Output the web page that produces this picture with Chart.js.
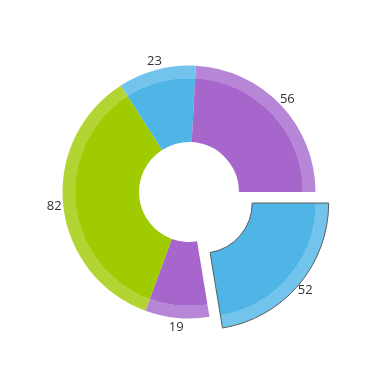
<!DOCTYPE html>
<html><head><meta charset="utf-8">
<script src="https://cdn.jsdelivr.net/npm/chart.js@4/dist/chart.umd.min.js"></script>
<style>html,body{margin:0;padding:0;background:#fff}#wrap{width:385px;height:373px;position:relative}</style>
</head><body><div id="wrap"><canvas id="c"></canvas></div>
<script>
// Data (clockwise from 3 o'clock)
const categories = ['Item 1', 'Item 2', 'Item 3', 'Item 4', 'Item 5'];
const values = [52, 19, 82, 23, 56];
const darkColors = ['#4FB5E6', '#A666CC', '#A0CB00', '#4FB5E6', '#A666CC'];
const lightColors = ['#72C4EC', '#B886D7', '#B3D533', '#72C4EC', '#B886D7'];
const explodedIndex = 0;

const OUTER_R = 126.5;
const BAND = 13;

function sliceFill(c) {
  const chart = c.chart;
  const a = chart.chartArea;
  const i = c.dataIndex;
  if (!a) return darkColors[i];
  const cx = (a.left + a.right) / 2, cy = (a.top + a.bottom) / 2;
  const ext = OUTER_R + 20;
  const g = chart.ctx.createRadialGradient(cx, cy, 0, cx, cy, ext);
  const s = (OUTER_R - BAND) / ext;
  g.addColorStop(0, darkColors[i]);
  g.addColorStop(s, darkColors[i]);
  g.addColorStop(s, lightColors[i]);
  g.addColorStop(1, lightColors[i]);
  return g;
}

const labelPlugin = {
  id: 'outLabels',
  afterDatasetsDraw(chart) {
    const ctx = chart.ctx;
    const meta = chart.getDatasetMeta(0);
    ctx.save();
    ctx.font = '13px "Open Sans", "DejaVu Sans", sans-serif';
    ctx.fillStyle = '#333';
    ctx.textAlign = 'center';
    ctx.textBaseline = 'middle';
    meta.data.forEach((arc, i) => {
      const p = arc.getProps(['x', 'y', 'startAngle', 'endAngle', 'outerRadius'], true);
      const mid = (p.startAngle + p.endAngle) / 2;
      const off = (arc.options.offset || 0) / 4;
      const r = p.outerRadius + off + 9;
      ctx.fillText(String(values[i]), p.x + Math.cos(mid) * r, p.y + Math.sin(mid) * r);
    });
    ctx.restore();
  }
};

new Chart(document.getElementById('c'), {
  type: 'doughnut',
  data: {
    labels: categories,
    datasets: [{
      data: values,
      backgroundColor: sliceFill,
      borderWidth: c => c.dataIndex === explodedIndex ? 1 : 0,
      borderColor: '#5c5c5c',
      borderJoinStyle: 'miter',
      offset: c => c.dataIndex === explodedIndex ? 68 : 0,
      hoverOffset: 0
    }]
  },
  options: {
    responsive: true,
    maintainAspectRatio: false,
    animation: false,
    events: [],
    rotation: 90,
    radius: OUTER_R,
    cutout: '39.5%',
    layout: { padding: { left: 0, right: 7, top: 11, bottom: 0 } },
    plugins: { legend: { display: false }, tooltip: { enabled: false } }
  },
  plugins: [labelPlugin]
});
</script>
</body></html>
